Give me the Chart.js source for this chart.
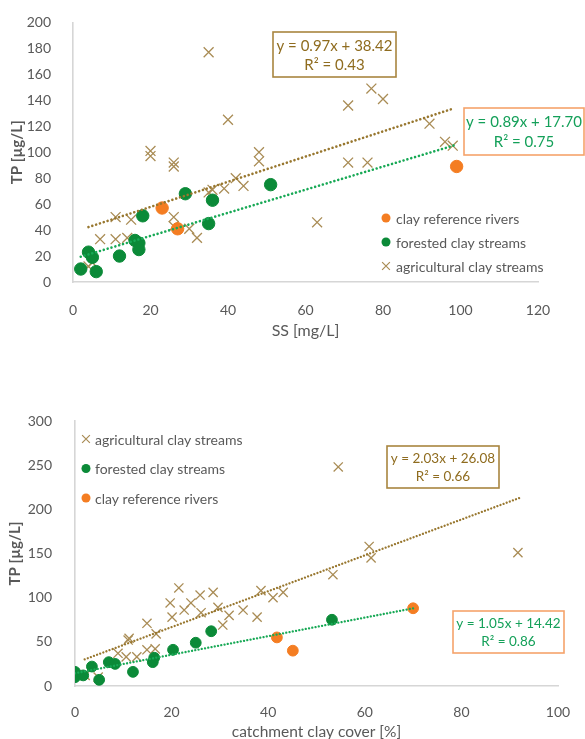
<!DOCTYPE html>
<html>
<head>
<meta charset="utf-8">
<title>TP vs SS and catchment clay cover</title>
<script src="https://cdn.jsdelivr.net/npm/chart.js@4.4.1/dist/chart.umd.min.js"></script>
<style>
  html, body { margin: 0; padding: 0; background: #ffffff; }
  body { width: 585px; height: 739px; position: relative; overflow: hidden; }
  .panel { position: absolute; left: 0; width: 585px; }
  #panelA { top: 0; height: 345px; }
  #panelB { top: 375px; height: 364px; }
  canvas { display: block; }
</style>
</head>
<body>
<div class="panel" id="panelA"><canvas id="chartA" width="585" height="345"></canvas></div>
<div class="panel" id="panelB"><canvas id="chartB" width="585" height="364"></canvas></div>
<script>
// ---------- Panel 1: suspended solids (mg/L) vs total phosphorus (µg/L) ----------
const ssTicksX = [0, 20, 40, 60, 80, 100, 120];
const ssTicksY = [0, 20, 40, 60, 80, 100, 120, 140, 160, 180, 200];

const ssRefX = [23, 27, 99];
const ssRefY = [57, 41, 89];

const ssForX = [2, 6, 4, 5, 12, 16, 17, 17, 18, 29, 36, 35, 51];
const ssForY = [10, 8, 23, 19, 20, 32, 30, 25, 51, 68, 63, 45, 75];

const ssAgrX = [35, 40, 20, 20, 26, 26, 48, 48, 77, 80, 71, 92, 96, 98, 71, 76, 63,
                42, 44, 39, 35, 36, 11, 15, 26, 30, 32, 7, 11, 14, 5, 4, 26];
const ssAgrY = [177, 125, 101, 97, 92, 89, 100, 93, 149, 141, 136, 122, 108, 105, 92, 92, 46,
                80, 74, 72, 69, 71, 50, 48, 50, 41, 34, 33, 33, 34, 15, 12, 43];

// linear fits: [slope, intercept, R², x from, x to]
const ssAgrFit = [0.97, 38.42, 0.43, 4, 98];
const ssForFit = [0.89, 17.70, 0.75, 2, 99];

// ---------- Panel 2: catchment clay cover (%) vs total phosphorus (µg/L) ----------
const clayTicksX = [0, 20, 40, 60, 80, 100];
const clayTicksY = [0, 50, 100, 150, 200, 250, 300];

const clayAgrX = [21.5, 19.7, 20.1, 22.6, 24, 25.9, 26.1, 28.6, 29.6, 30.6, 31.9, 34.8, 37.7, 38.5,
                  41, 43.1, 14.9, 11, 11.2, 16.8, 14.9, 16.6, 12.8, 10.6, 8.9, 4.8, 2.1,
                  54.5, 60.9, 61.3, 53.4, 91.7];
const clayAgrY = [111, 94, 78, 86, 94, 103, 83, 106, 89, 69, 80, 86, 78, 108,
                  100, 106, 71, 52, 54, 59, 41, 42, 33, 33, 37, 10, 12,
                  248, 158, 145, 126, 151];

const clayForX = [0, 0, 1.7, 3.5, 5, 7, 8.3, 12, 16.1, 16.4, 20.3, 25, 28.2, 53.2];
const clayForY = [16, 10, 12, 22, 7, 27, 25, 16, 27, 32, 41, 49, 62, 75];

const clayRefX = [41.8, 45.1, 70];
const clayRefY = [55, 40, 88];

const clayAgrFit = [2.03, 26.08, 0.66, 2, 92];
const clayForFit = [1.05, 14.42, 0.86, 0, 70];

// ---------- styling ----------
const FONT = 'Lato, "Open Sans", "DejaVu Sans", sans-serif';
const TEXT = '#595959';
const AXIS = '#d6d6d6';
const AGR = '#a98c55';
const AGR_LINE = '#98772f';
const AGR_TEXT = '#8f6c1f';
const FOR = '#0b8a38';
const FOR_LINE = '#18a956';
const FOR_TEXT = '#14a059';
const REF = '#f47d22';
const REF_BORDER = '#f5a36b';

const pts = (xs, ys) => xs.map((x, i) => ({ x: x, y: ys[i] }));
const fitLine = f => [{ x: f[3], y: f[0] * f[3] + f[1] }, { x: f[4], y: f[0] * f[4] + f[1] }];
const eqText = f => 'y = ' + f[0].toFixed(2) + 'x + ' + f[1].toFixed(2);
const r2Text = f => 'R\u00B2 = ' + f[2].toFixed(2);

function trend(label, f, color, w, gap) {
  return {
    label: label, data: fitLine(f), showLine: true, borderColor: color, borderWidth: w,
    borderDash: [0.01, gap], borderCapStyle: 'round', pointRadius: 0, pointHoverRadius: 0, fill: false
  };
}
function markers(label, data, style, color, r) {
  const cross = style === 'crossRot';
  return {
    label: label, data: data, pointStyle: style, pointRadius: r, pointHoverRadius: r,
    backgroundColor: color, borderColor: color, borderWidth: cross ? 1.3 : 1, showLine: false
  };
}

function drawMarker(ctx, style, color, x, y, r) {
  ctx.save();
  ctx.strokeStyle = color; ctx.fillStyle = color;
  if (style === 'circle') {
    ctx.beginPath(); ctx.arc(x, y, r, 0, Math.PI * 2); ctx.fill();
  } else {
    const d = r * 0.707; ctx.lineWidth = 1.2;
    ctx.beginPath();
    ctx.moveTo(x - d, y - d); ctx.lineTo(x + d, y + d);
    ctx.moveTo(x + d, y - d); ctx.lineTo(x - d, y + d);
    ctx.stroke();
  }
  ctx.restore();
}

// annotations: axis titles, equation boxes and legend
function decorations(spec) {
  return {
    id: 'decor',
    afterDraw(chart) {
      const ctx = chart.ctx, a = chart.chartArea;
      ctx.save();
      ctx.fillStyle = TEXT; ctx.textAlign = 'center'; ctx.textBaseline = 'middle';
      ctx.font = spec.xTitle.font; ctx.fillText(spec.xTitle.text, (a.left + a.right) / 2, spec.xTitle.y);
      ctx.save();
      ctx.translate(spec.yTitle.x, (a.top + a.bottom) / 2); ctx.rotate(-Math.PI / 2);
      ctx.font = spec.yTitle.font; ctx.fillText(spec.yTitle.text, 0, 0);
      ctx.restore();

      spec.boxes.forEach(b => {
        ctx.fillStyle = '#ffffff'; ctx.fillRect(b.x, b.y, b.w, b.h);
        ctx.strokeStyle = b.border; ctx.lineWidth = 1.6; ctx.strokeRect(b.x, b.y, b.w, b.h);
        ctx.fillStyle = b.color; ctx.font = b.font; ctx.textAlign = 'center'; ctx.textBaseline = 'middle';
        ctx.fillText(b.lines[0], b.x + b.w / 2, b.y + b.h * 0.31);
        ctx.fillText(b.lines[1], b.x + b.w / 2, b.y + b.h * 0.73);
      });

      ctx.font = spec.legend.font; ctx.textAlign = 'left'; ctx.textBaseline = 'middle';
      spec.legend.items.forEach((it, i) => {
        const y = spec.legend.y + i * spec.legend.gap;
        drawMarker(ctx, it.style, it.color, spec.legend.x, y, it.style === 'circle' ? 4.5 : 5.5);
        ctx.fillStyle = TEXT;
        ctx.fillText(it.label, spec.legend.textX, y + 1);
      });
      ctx.restore();
    }
  };
}

function buildChart(id, spec) {
  const ticksX = spec.ticksX, ticksY = spec.ticksY;
  return new Chart(document.getElementById(id), {
    type: 'scatter',
    data: { datasets: spec.datasets },
    options: {
      responsive: false, animation: false, events: [],
      layout: { padding: { left: 0, top: spec.area.top, right: spec.width - spec.area.right, bottom: 0 } },
      plugins: { legend: { display: false }, tooltip: { enabled: false } },
      scales: {
        x: {
          type: 'linear', min: ticksX[0], max: ticksX[ticksX.length - 1],
          ticks: { stepSize: ticksX[1] - ticksX[0], color: TEXT, font: { family: FONT, size: 14 }, padding: spec.xPad },
          grid: { display: false }, border: { display: true, color: AXIS, width: 1.6 },
          afterFit: s => { s.height = spec.height - spec.area.bottom; }
        },
        y: {
          type: 'linear', min: ticksY[0], max: ticksY[ticksY.length - 1],
          ticks: { stepSize: ticksY[1] - ticksY[0], color: TEXT, font: { family: FONT, size: 14 }, padding: spec.yPad },
          grid: { display: false }, border: { display: true, color: AXIS, width: 1.6 },
          afterFit: s => { s.width = spec.area.left; }
        }
      }
    },
    plugins: [decorations(spec)]
  });
}

// Panel 1
buildChart('chartA', {
  width: 585, height: 345,
  area: { left: 73, right: 538, top: 20, bottom: 282 },
  ticksX: ssTicksX, ticksY: ssTicksY, xPad: 12, yPad: 14,
  datasets: [
    trend('agricultural fit', ssAgrFit, AGR_LINE, 2.6, 4),
    trend('forested fit', ssForFit, FOR_LINE, 2.6, 4),
    markers('clay reference rivers', pts(ssRefX, ssRefY), 'circle', REF, 6.2),
    markers('forested clay streams', pts(ssForX, ssForY), 'circle', FOR, 6.2),
    markers('agricultural clay streams', pts(ssAgrX, ssAgrY), 'crossRot', AGR, 7)
  ],
  xTitle: { text: 'SS [mg/L]', font: '16px ' + FONT, y: 331 },
  yTitle: { text: 'TP [\u00B5g/L]', font: 'bold 15px ' + FONT, x: 17 },
  boxes: [
    { x: 273, y: 32, w: 123, h: 45, border: '#a8853f', color: AGR_TEXT, font: '15px ' + FONT,
      lines: [eqText(ssAgrFit), r2Text(ssAgrFit)] },
    { x: 464, y: 108, w: 120, h: 47, border: REF_BORDER, color: FOR_TEXT, font: '15px ' + FONT,
      lines: [eqText(ssForFit), r2Text(ssForFit)] }
  ],
  legend: {
    x: 386, textX: 396, y: 218, gap: 24, font: '14px ' + FONT,
    items: [
      { style: 'circle', color: REF, label: 'clay reference rivers' },
      { style: 'circle', color: FOR, label: 'forested clay streams' },
      { style: 'cross', color: AGR, label: 'agricultural clay streams' }
    ]
  }
});

// Panel 2
buildChart('chartB', {
  width: 585, height: 364,
  area: { left: 75, right: 558, top: 46, bottom: 311 },
  ticksX: clayTicksX, ticksY: clayTicksY, xPad: 10, yPad: 15,
  datasets: [
    trend('agricultural fit', clayAgrFit, AGR_LINE, 2.3, 3.3),
    trend('forested fit', clayForFit, FOR_LINE, 2.3, 3.3),
    markers('clay reference rivers', pts(clayRefX, clayRefY), 'circle', REF, 5.4),
    markers('forested clay streams', pts(clayForX, clayForY), 'circle', FOR, 5.4),
    markers('agricultural clay streams', pts(clayAgrX, clayAgrY), 'crossRot', AGR, 6.5)
  ],
  xTitle: { text: 'catchment clay cover [%]', font: '15.5px ' + FONT, y: 357 },
  yTitle: { text: 'TP [\u00B5g/L]', font: 'bold 15px ' + FONT, x: 15 },
  boxes: [
    { x: 387, y: 71, w: 112, h: 42, border: '#a8853f', color: AGR_TEXT, font: '13.5px ' + FONT,
      lines: [eqText(clayAgrFit), r2Text(clayAgrFit)] },
    { x: 453, y: 236, w: 111, h: 42, border: REF_BORDER, color: FOR_TEXT, font: '13.5px ' + FONT,
      lines: [eqText(clayForFit), r2Text(clayForFit)] }
  ],
  legend: {
    x: 86, textX: 95, y: 64, gap: 29.5, font: '14px ' + FONT,
    items: [
      { style: 'cross', color: AGR, label: 'agricultural clay streams' },
      { style: 'circle', color: FOR, label: 'forested clay streams' },
      { style: 'circle', color: REF, label: 'clay reference rivers' }
    ]
  }
});
</script>
</body>
</html>
